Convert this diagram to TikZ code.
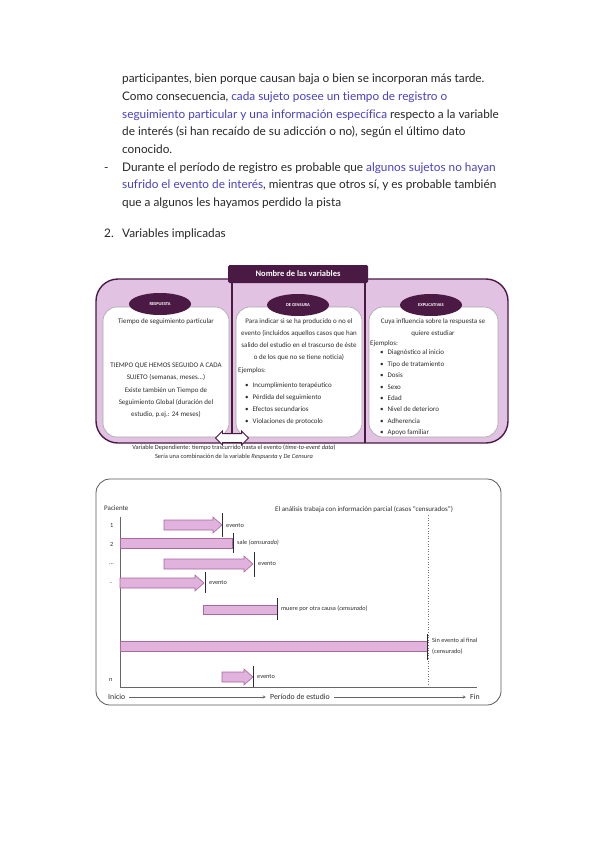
\documentclass[tikz,border=0pt]{standalone}
\usepackage{fontspec}
\setmainfont{Carlito}
\newfontfamily\bodyfont[Ligatures=NoCommon]{Lato}
\usetikzlibrary{shapes.geometric,shapes.arrows}

\definecolor{linkblue}{RGB}{72,64,196}
\definecolor{lilac}{RGB}{226,194,226}
\definecolor{plum}{RGB}{74,26,68}
\definecolor{barfill}{RGB}{224,178,220}
\definecolor{barline}{RGB}{168,104,160}
\definecolor{ink}{RGB}{45,45,45}

\tikzset{
  line/.style={font=\bodyfont\fontsize{11.8}{14}\selectfont, anchor=base west, inner sep=0pt, text=black!85},
  txt/.style={font=\fontsize{7}{12}\selectfont, text=ink, inner sep=0pt},
  ovalbox/.style={ellipse, fill=plum, text=white, font=\bfseries\fontsize{4.5}{5}\selectfont, minimum width=62pt, minimum height=22pt, inner sep=0pt},
  whitebox/.style={fill=white, draw=black!35, line width=0.6pt, rounded corners=14pt},
  bar/.style={fill=barfill, draw=barline, line width=0.6pt},
  tick/.style={draw=ink, line width=0.9pt},
  small/.style={font=\fontsize{6.3}{9}\selectfont, text=ink, anchor=west, inner sep=0pt},
}

\begin{document}
\begin{tikzpicture}[x=1pt,y=-1pt]
\useasboundingbox (0,0) rectangle (599,848);

% text above
\node[line] (l1) at (122,83) {participantes, bien porque causan baja o bien se incorporan más tarde.};
\node[line] (l2) at (122,100.6) {Como consecuencia, \textcolor{linkblue}{cada sujeto posee un tiempo de registro o}};
\node[line] (l3) at (122,118.2) {\textcolor{linkblue}{seguimiento particular y una información específica} respecto a la variable};
\node[line] (l4) at (122,135.8) {de interés (si han recaído de su adicción o no), según el último dato};
\node[line] (l5) at (122,153.4) {conocido.};
\node[line] (dash) at (104,171) {-};
\node[line] (l6) at (122,171) {Durante el período de registro es probable que \textcolor{linkblue}{algunos sujetos no hayan}};
\node[line] (l7) at (122,188.6) {\textcolor{linkblue}{sufrido el evento de interés}, mientras que otros sí, y es probable también};
\node[line] (l8) at (122,206.2) {que a algunos les hayamos perdido la pista};
\node[line] (num) at (104,237) {2.};
\node[line] (sec) at (122,237) {Variables implicadas};

% variables
\draw[plum, fill=lilac, line width=1.4pt, rounded corners=22pt] (96,279) rectangle (508,443);
\draw[plum, line width=1.2pt] (232,283) -- (232,443);
\draw[plum, line width=1.2pt] (365,283) -- (365,443);
\draw[whitebox] (103,307) rectangle (229,437);
\draw[whitebox] (236,307) rectangle (362,437);
\draw[whitebox] (369,307) rectangle (498,437);
\node[fill=plum, text=white, font=\bfseries\fontsize{8.5}{10}\selectfont, minimum width=140pt, minimum height=18pt, rounded corners=1.5pt] (head) at (298,274) {Nombre de las variables};
\node[ovalbox] (resp) at (160,304) {RESPUESTA};
\node[ovalbox] (cens) at (298,305) {DE CENSURA};
\node[ovalbox] (expl) at (431,305) {EXPLICATIVAS};

\node[txt] (tseg) at (166,322) {Tiempo de seguimiento particular};
\node[txt, align=center, font=\fontsize{7}{11.5}\selectfont] (tq) at (166,371.5) {TIEMPO QUE HEMOS SEGUIDO A CADA\\SUJETO (semanas, meses...)};
\node[txt, align=center] (tg) at (166,403) {Existe también un Tiempo de\\Seguimiento Global (duración del\\estudio, p.ej.: 24 meses)};

\node[txt, align=center] (para) at (299,340) {Para indicar si se ha producido o no el\\evento (incluidos aquellos casos que han\\salido del estudio en el trascurso de éste\\o de los que no se tiene noticia)};
\node[txt, anchor=west] (ej1) at (238,371) {Ejemplos:};
\node[txt, anchor=west, align=left] (list1) at (245,404) {\textbullet\hspace{4pt}Incumplimiento terapéutico\\\textbullet\hspace{4pt}Pérdida del seguimiento\\\textbullet\hspace{4pt}Efectos secundarios\\\textbullet\hspace{4pt}Violaciones de protocolo};

\node[txt, align=center] (cuya) at (433,328) {Cuya influencia sobre la respuesta se\\quiere estudiar};
\node[txt, anchor=west] (ej2) at (370,344) {Ejemplos:};
\node[txt, anchor=west, align=left, font=\fontsize{7}{11.4}\selectfont] (list2) at (380,393) {\textbullet\hspace{4pt}Diagnóstico al inicio\\\textbullet\hspace{4pt}Tipo de tratamiento\\\textbullet\hspace{4pt}Dosis\\\textbullet\hspace{4pt}Sexo\\\textbullet\hspace{4pt}Edad\\\textbullet\hspace{4pt}Nivel de deterioro\\\textbullet\hspace{4pt}Adherencia\\\textbullet\hspace{4pt}Apoyo familiar};

\node[double arrow, draw=plum, fill=white, line width=0.8pt, minimum height=33pt, minimum width=13pt, double arrow head extend=2.5pt, inner sep=4pt] (dbl) at (232,438) {};
\node[txt, align=center, font=\fontsize{6.4}{9}\selectfont] (cap) at (234,452.5) {Variable Dependiente: tiempo trascurrido hasta el evento (\textit{time-to-event data})\\Sería una combinación de la variable \textit{Respuesta} y \textit{De Censura}};

% seguimiento de pacientes
\draw[draw=ink!80, line width=0.8pt, rounded corners=14pt] (96,479) rectangle (501,705);
\draw[black!60, line width=0.5pt] (120,517) -- (120,687) -- (477,687);
\draw[black!55, dotted, line width=0.6pt] (428,515) -- (428,687);
\node[small, font=\fontsize{7}{9}\selectfont] (pac) at (104,508) {Paciente};
\node[small, font=\fontsize{7}{9}\selectfont] (parc) at (275,510) {El análisis trabaja con información parcial (casos “censurados”)};
\node[small] (p1) at (110,525) {1};
\node[small] (p2) at (110,544) {2};
\node[small] (p3) at (109,564) {...};
\node[small] (p4) at (110,583) {-};
\node[small] (pn) at (109,680) {n};

\draw[bar] (164,520) -- (213,520) -- (213,517) -- (222,525) -- (213,533) -- (213,530) -- (164,530) -- cycle;
\draw[bar] (120,538) rectangle (232,548);
\draw[bar] (164,559) -- (244,559) -- (244,556) -- (253,564) -- (244,572) -- (244,569) -- (164,569) -- cycle;
\draw[bar] (120,578) -- (195,578) -- (195,575) -- (204,583) -- (195,591) -- (195,588) -- (120,588) -- cycle;
\draw[bar] (203,605) rectangle (277,614);
\draw[bar] (120,641) rectangle (427,651);
\draw[bar] (222,672) -- (244,672) -- (244,669) -- (253,677) -- (244,685) -- (244,682) -- (222,682) -- cycle;

\draw[tick] (222,513) -- (222,537);
\draw[tick] (233,533) -- (233,553);
\draw[tick] (254,552) -- (254,577);
\draw[tick] (205,572) -- (205,593);
\draw[tick] (277,598) -- (277,620);
\draw[tick] (427,634) -- (427,660);
\draw[tick] (253,666) -- (253,687);

\node[small] (e1) at (226,526) {evento};
\node[small] (e2) at (237,543) {sale \textit{(censurado)}};
\node[small] (e3) at (258,564) {evento};
\node[small] (e4) at (209,583) {evento};
\node[small] (e5) at (281,609) {muere por otra causa (\textit{censurado})};
\node[small, align=left, font=\fontsize{6.3}{11}\selectfont] (e6) at (432,646) {Sin evento al final\\(censurado)};
\node[small] (en) at (257,677) {evento};

\node[small, font=\fontsize{7.8}{9}\selectfont] (inicio) at (108,697) {Inicio};
\node[small, font=\fontsize{7.8}{9}\selectfont, anchor=center] (periodo) at (300,697) {Período de estudio};
\node[small, font=\fontsize{7.8}{9}\selectfont] (fin) at (470,697) {Fin};
\draw[-stealth, black!60, line width=0.5pt, shorten <=4pt, shorten >=4pt] (inicio) -- (periodo);
\draw[-stealth, black!60, line width=0.5pt, shorten <=4pt, shorten >=4pt] (periodo) -- (fin);

\end{tikzpicture}
\end{document}
